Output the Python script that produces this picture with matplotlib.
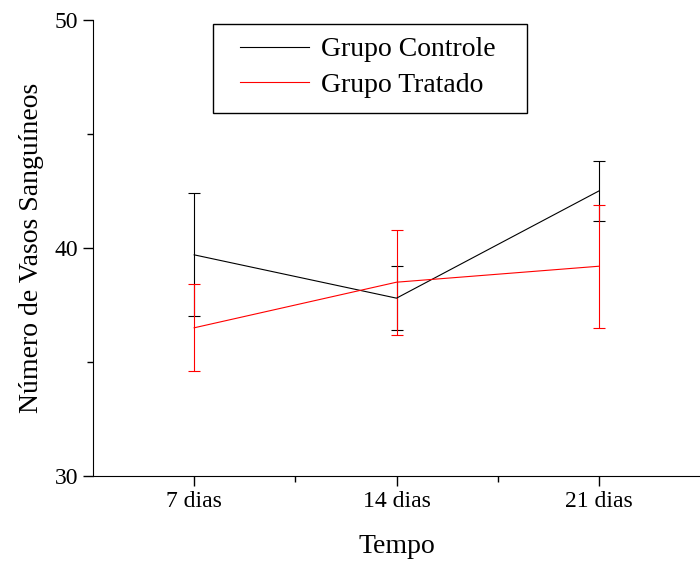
import matplotlib
matplotlib.use("Agg")
from matplotlib import pyplot as plt
from matplotlib.lines import Line2D
from matplotlib.patches import Rectangle
from matplotlib.ticker import MultipleLocator, FixedLocator

plt.rcParams['font.family'] = ['Liberation Serif', 'DejaVu Serif']

# data
tempos = ['7 dias', '14 dias', '21 dias']
controle = [39.7, 37.8, 42.5]
controle_err = [2.7, 1.4, 1.3]
tratado = [36.5, 38.5, 39.2]
tratado_err = [1.9, 2.3, 2.7]

x = list(range(1, len(tempos) + 1))

fig = plt.figure(figsize=(7, 5.68), dpi=100)
ax = fig.add_axes([93 / 700, 92 / 568, 607 / 700, 456 / 568])

ax.errorbar(x, controle, yerr=controle_err, color='black', lw=0.8,
            elinewidth=0.8, capsize=4.5, capthick=0.8)
ax.errorbar(x, tratado, yerr=tratado_err, color='red', lw=0.8,
            elinewidth=0.8, capsize=4.5, capthick=0.8)

ax.set_xlim(0.5, 3.5)
ax.set_ylim(30, 50)
ax.set_xticks(x)
ax.set_xticklabels(tempos)
ax.xaxis.set_minor_locator(FixedLocator([1.5, 2.5]))
ax.yaxis.set_major_locator(MultipleLocator(10))
ax.yaxis.set_minor_locator(MultipleLocator(5))
ax.tick_params(which='major', direction='out', length=7, width=1, labelsize=17)
ax.tick_params(which='minor', direction='out', length=4, width=1)

ax.spines['top'].set_visible(False)
ax.spines['right'].set_visible(False)

ax.set_xlabel('Tempo', fontsize=20, labelpad=16)
ax.set_ylabel('Número de Vasos Sanguíneos', fontsize=20, labelpad=8)

# legend box drawn by hand so the padding can match
ax.add_patch(Rectangle((120 / 607, 363 / 456), 314 / 607, 89 / 456,
                       transform=ax.transAxes, fill=False, ec='black', lw=1,
                       clip_on=False, zorder=5))

# plain lines in the legend, no error bars
handles = [Line2D([], [], color='black', lw=0.8),
           Line2D([], [], color='red', lw=0.8)]
labels = ['Grupo Controle', 'Grupo Tratado']
leg = ax.legend(handles, labels, loc='upper left',
                bbox_to_anchor=(147 / 607, 439 / 456), fontsize=20,
                frameon=False, handlelength=2.5, borderpad=0,
                labelspacing=0.37, handletextpad=0.43, borderaxespad=0)

plt.savefig('out.png')
